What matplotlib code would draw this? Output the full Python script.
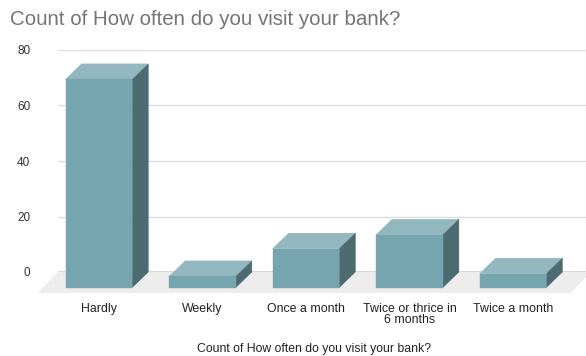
import matplotlib.pyplot as plt
from matplotlib.patches import Polygon

plt.rcParams['font.family'] = ['Liberation Sans', 'DejaVu Sans']

categories = ["Hardly", "Weekly", "Once a month", "Twice or thrice in\n6 months", "Twice a month"]
counts = [75, 4, 14, 19, 5]
y_ticks = [0, 20, 40, 60, 80]

chart_title = "Count of How often do you visit your bank?"
x_title = "Count of How often do you visit your bank?"

FRONT = "#76a5af"
TOP = "#92b7bf"
SIDE = "#4c6b71"
FLOOR = "#ededed"

# fake depth, in data units (x: category widths, y: count units)
DX = 0.155
DY = 5.6
BAR_W = 0.645

W, H = 586, 356
fig = plt.figure(figsize=(W / 100, H / 100), dpi=100)
ax = fig.add_axes([58 / W, (H - 272) / H, 528 / W, 222 / H])
ax.set_xlim(-0.55, 4.55)
ax.set_ylim(0, 80)

for s in ax.spines.values():
    s.set_visible(False)

# back wall gridlines and the zero line
for t in y_ticks[1:]:
    ax.axhline(t, color="#dddddd", lw=1, zorder=0)
ax.axhline(0, color="#3c3c3c", lw=1, zorder=1)

# floor
x0, x1 = ax.get_xlim()
floor = Polygon([(x0, 0), (x1 + 0.05, 0), (x1 - 0.15, -7.6), (x0 - 0.2, -7.6)],
                closed=True, facecolor=FLOOR, edgecolor="none", clip_on=False, zorder=2)
ax.add_patch(floor)

for i, v in enumerate(counts):
    # front face sits DX left, DY down from the back face
    fl = i - BAR_W / 2 - DX
    fr = i + BAR_W / 2 - DX
    fb = -DY
    ft = v - DY
    top = [(fl, ft), (fr, ft), (fr + DX, v), (fl + DX, v)]
    side = [(fr, fb), (fr + DX, 0), (fr + DX, v), (fr, ft)]
    front = [(fl, fb), (fr, fb), (fr, ft), (fl, ft)]
    for pts, c in ((top, TOP), (side, SIDE), (front, FRONT)):
        ax.add_patch(Polygon(pts, closed=True, facecolor=c, edgecolor=c, lw=0.3,
                             clip_on=False, zorder=3))

ax.set_yticks(y_ticks)
ax.set_yticklabels([str(t) for t in y_ticks])
ax.set_xticks([i - DX for i in range(len(categories))])
ax.set_xticklabels(categories, linespacing=0.95)
ax.tick_params(axis="y", length=0, pad=20, labelsize=8.5, labelcolor="#333333")
ax.tick_params(axis="x", length=0, pad=22, labelsize=8.9, labelcolor="#222222")

fig.text(10 / W, 1 - 19.5 / H, chart_title, fontsize=14.8, color="#757575",
         ha="left", va="center")
fig.text(314 / W, 1 - 349 / H, x_title, fontsize=8.8, color="#222222",
         ha="center", va="center")

fig.savefig("out.png", dpi=100, facecolor="white")
